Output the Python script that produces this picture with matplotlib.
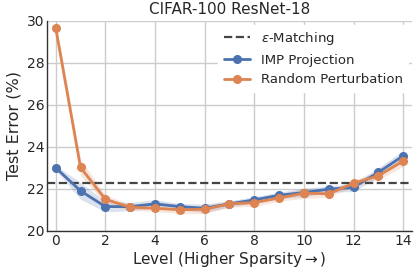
import matplotlib
matplotlib.use("Agg")
import matplotlib.pyplot as plt
import seaborn as sns
import numpy as np

levels = list(range(15))
imp_projection = [23.0, 21.9, 21.15, 21.15, 21.28, 21.15, 21.07, 21.28, 21.47, 21.69, 21.82, 21.98, 22.07, 22.78, 23.57]
imp_band = [0.12, 0.4, 0.25, 0.2, 0.2, 0.15, 0.2, 0.15, 0.15, 0.15, 0.2, 0.15, 0.2, 0.22, 0.25]
random_perturbation = [29.67, 23.02, 21.5, 21.12, 21.07, 21.0, 21.02, 21.28, 21.34, 21.56, 21.79, 21.76, 22.26, 22.62, 23.32]
rand_band = [0.3, 0.4, 0.2, 0.15, 0.15, 0.18, 0.2, 0.15, 0.18, 0.15, 0.25, 0.15, 0.15, 0.2, 0.25]
eps_matching = 22.29

sns.set_theme(style="whitegrid")
plt.rcParams['font.family'] = ['DejaVu Sans']

blue = "#4C72B0"
orange = "#DD8452"

fig, ax = plt.subplots(figsize=(4.16, 2.78), dpi=100)
fig.subplots_adjust(left=0.113, right=0.99, top=0.925, bottom=0.17)

ax.axhline(eps_matching, color="#444444", linestyle="--", linewidth=1.6, label=r"$\epsilon$-Matching")

x = np.array(levels)
b = np.array(imp_projection); bb = np.array(imp_band)
o = np.array(random_perturbation); ob = np.array(rand_band)
ax.fill_between(x, b - bb, b + bb, color=blue, alpha=0.2, linewidth=0)
ax.plot(x, b, color=blue, marker="o", markersize=5.5, linewidth=2, label="IMP Projection")
ax.fill_between(x, o - ob, o + ob, color=orange, alpha=0.2, linewidth=0)
ax.plot(x, o, color=orange, marker="o", markersize=5.5, linewidth=2, label="Random Perturbation")

ax.set_xlim(-0.35, 14.35)
ax.set_ylim(20, 30)
ax.set_xticks(range(0, 15, 2))
ax.set_yticks(range(20, 31, 2))
ax.tick_params(labelsize=10, pad=2, length=0)
ax.set_xlabel("Level (Higher Sparsity$\\rightarrow$)", fontsize=11, labelpad=2)
ax.set_ylabel("Test Error (%)", fontsize=11.5, labelpad=4)
ax.set_title("CIFAR-100 ResNet-18", fontsize=11, pad=5)

for s in ["top", "right"]:
    ax.spines[s].set_visible(False)
for s in ["left", "bottom"]:
    ax.spines[s].set_color("#333333")
    ax.spines[s].set_linewidth(1.0)

leg = ax.legend(loc="upper right", fontsize=9.5, frameon=True, framealpha=1.0, edgecolor="white",
                handlelength=2, borderaxespad=0.3)

fig.savefig("out.png", dpi=100)
